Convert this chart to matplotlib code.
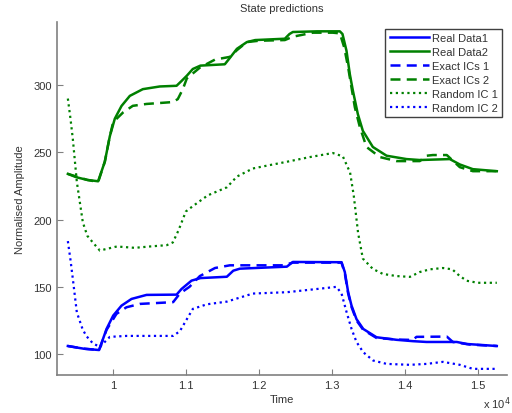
import matplotlib.pyplot as plt

plt.rcParams["font.family"] = ["Liberation Sans", "DejaVu Sans"]
plt.rcParams["font.size"] = 8

BLUE = "#0000ff"
GREEN = "#008000"
TXT = "#333333"

# Real Data2 (green solid)
t_real2 = [9384, 9500, 9650, 9799, 9890, 9959, 10027, 10119, 10233, 10411, 10644, 10873,
           10940, 11014, 11096, 11200, 11534, 11600, 11700, 11836, 11950, 12356, 12420,
           12466, 12800, 13110, 13146, 13201, 13247, 13288, 13356, 13425, 13562, 13750,
           14023, 14205, 14616, 14753, 14932, 15260]
v_real2 = [234, 231.5, 229.5, 228.5, 243, 262, 275, 284.5, 292, 297, 299, 299.5,
           303, 307, 312, 314.5, 315.5, 320, 327, 332, 333.5, 334.5, 338,
           339.5, 340, 340, 338, 325.5, 308, 296, 278.5, 266, 254, 247.5,
           245, 244.3, 245, 241, 237.5, 236]

# Exact ICs 2 (green dashed)
t_exact2 = [9384, 9650, 9799, 9890, 9959, 10005, 10141, 10274, 10462, 10822, 10890, 10959,
            11014, 11192, 11400, 11603, 11700, 11836, 12000, 12356, 12466, 12740, 13014,
            13110, 13170, 13224, 13315, 13384, 13475, 13658, 13887, 14205, 14300, 14384,
            14575, 14753, 14932, 15260]
v_exact2 = [234, 229.5, 228, 243, 262, 272.5, 279.7, 284.6, 286, 287.4, 289.6, 297,
            305, 313, 319, 321, 326, 332, 333, 333.5, 336, 339, 339,
            338.5, 328, 313, 283.6, 268.8, 254, 246.5, 243.5, 243.5, 247.5, 248,
            248, 239, 236, 236]

# Random IC 1 (green dotted)
t_rand1 = [9384, 9420, 9452, 9507, 9589, 9650, 9726, 9822, 10055, 10300, 10507, 10740,
           10822, 10900, 11000, 11096, 11300, 11562, 11700, 11918, 12100, 12384, 12700,
           13014, 13151, 13250, 13300, 13360, 13425, 13562, 13699, 13887, 14069, 14205,
           14342, 14521, 14650, 14753, 14849, 15000, 15260]
v_rand1 = [290, 275, 260, 228, 198, 188, 183, 177, 180, 179, 180, 181,
           183, 192, 206, 210, 218, 224, 232, 238, 240, 243, 246.5,
           249.5, 247, 235, 218, 190, 171, 163.3, 159.6, 158, 157.4, 161,
           163, 164, 163, 158, 154.5, 153, 153]

# Real Data1 (blue solid)
t_real1 = [9384, 9600, 9812, 9914, 10005, 10119, 10256, 10462, 10873, 10941, 11078, 11200,
           11562, 11650, 11740, 12384, 12466, 13133, 13178, 13224, 13270, 13338, 13430,
           13612, 13887, 14110, 14297, 14712, 14849, 15260]
v_real1 = [106, 104, 103, 118.7, 128.6, 136, 141, 144, 144.2, 148.4, 154.6, 156.5,
           157.5, 162, 163.5, 165, 168.5, 168.3, 161, 146, 136, 126, 118.7,
           112.5, 110.6, 109.6, 109, 109, 107.5, 106]

# Exact ICs 1 (blue dashed)
t_exact1 = [9384, 9600, 9812, 9914, 10050, 10187, 10370, 10826, 10918, 11050, 11192, 11400,
            11603, 12329, 12466, 13133, 13178, 13224, 13270, 13338, 13430, 13612, 13887,
            14110, 14160, 14575, 14658, 14900, 15260]
v_exact1 = [106, 104, 103, 118, 129.9, 134.8, 137.3, 138.6, 145, 150, 158, 164,
            166, 166, 168, 168, 160, 145, 135, 125, 118, 112, 110.8,
            110.5, 112.8, 113, 109, 107, 106]

# Random IC 2 (blue dotted)
t_rand2 = [9384, 9420, 9452, 9507, 9589, 9644, 9726, 9822, 9959, 10187, 10826, 10918,
           11096, 11288, 11562, 11918, 12384, 12900, 13064, 13133, 13201, 13270, 13338,
           13430, 13566, 13750, 14069, 14301, 14521, 14753, 14932, 15260]
v_rand2 = [184, 170, 156, 131, 118, 113, 108, 105.3, 112.8, 113.5, 113.5, 117,
           133.6, 137, 139, 145, 146, 149, 150, 145, 131.4, 118.7, 109,
           101.4, 95.2, 92.7, 92, 92.7, 94.2, 92, 89, 89]

x_ticks = [10000, 11000, 12000, 13000, 14000, 15000]
x_tick_labels = ["1", "1.1", "1.2", "1.3", "1.4", "1.5"]
y_ticks = [100, 150, 200, 250, 300]

fig = plt.figure(figsize=(5.12, 4.14), dpi=100)
ax = fig.add_axes([0.111, 0.092, 0.879, 0.852])

ax.plot(t_real1, v_real1, color=BLUE, lw=1.8, label="Real Data1")
ax.plot(t_real2, v_real2, color=GREEN, lw=1.8, label="Real Data2")
ax.plot(t_exact1, v_exact1, color=BLUE, lw=1.8, ls=(0, (4, 2.5)), label="Exact ICs 1")
ax.plot(t_exact2, v_exact2, color=GREEN, lw=1.8, ls=(0, (4, 2.5)), label="Exact ICs 2")
ax.plot(t_rand1, v_rand1, color=GREEN, lw=1.6, ls=(0, (1, 1.6)), label="Random IC 1")
ax.plot(t_rand2, v_rand2, color=BLUE, lw=1.6, ls=(0, (1, 1.6)), label="Random IC 2")

ax.set_xlim(9233, 15398)
ax.set_ylim(84.5, 346.8)
ax.set_xticks(x_ticks)
ax.set_xticklabels(x_tick_labels)
ax.set_yticks(y_ticks)
ax.tick_params(direction="in", length=4, color="#808080", labelcolor=TXT, labelsize=8)

for side in ["top", "right"]:
    ax.spines[side].set_visible(False)
for side in ["left", "bottom"]:
    ax.spines[side].set_color("#808080")
    ax.spines[side].set_linewidth(1.2)

ax.set_title("State predictions", color=TXT, fontsize=8, pad=8)
ax.set_xlabel("Time", color=TXT, fontsize=8, labelpad=3)
ax.set_ylabel("Normalised Amplitude", color=TXT, fontsize=8, labelpad=6)
fig.text(0.997, 0.006, r"x 10$^4$", ha="right", va="bottom", color=TXT, fontsize=8)

leg = ax.legend(loc="upper right", bbox_to_anchor=(0.99, 0.982), fontsize=8,
                handlelength=3.5, handletextpad=0.3, labelspacing=0.36,
                borderpad=0.4, borderaxespad=0, fancybox=False, framealpha=1)
leg.get_frame().set_edgecolor("#404040")
leg.get_frame().set_linewidth(1.0)
for txt in leg.get_texts():
    txt.set_color(TXT)

fig.savefig("out.png", dpi=100)
